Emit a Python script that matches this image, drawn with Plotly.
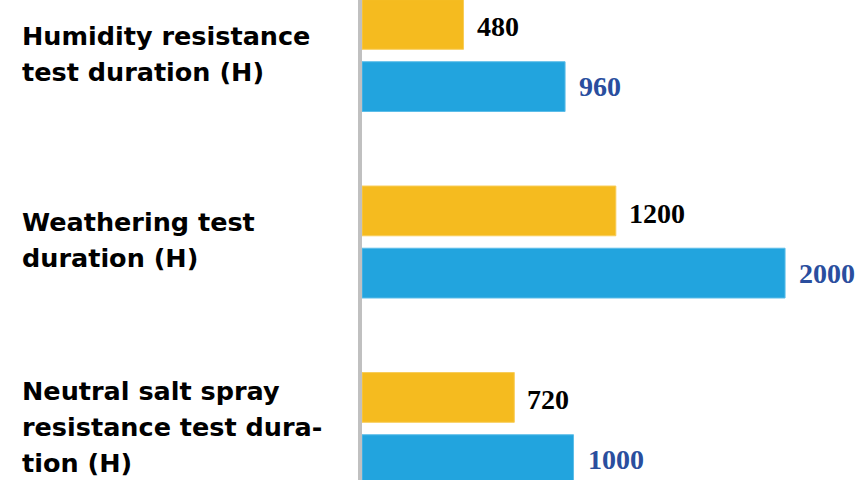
import plotly.graph_objects as go

category_lines = [
    ["Humidity resistance", "test duration (H)"],
    ["Weathering test", "duration (H)"],
    ["Neutral salt spray", "resistance test dura-", "tion (H)"],
]
categories = [" ".join(l) for l in category_lines]
series_a = [480, 1200, 720]    # yellow
series_b = [960, 2000, 1000]   # blue

YELLOW = "#F5BB1F"
BLUE = "#22A4DE"
LABEL_BLUE = "#2A4E9E"

fig = go.Figure()
fig.add_trace(go.Bar(y=categories, x=series_a, orientation="h",
                     marker=dict(color=YELLOW, line=dict(color="#F8CD5A", width=1)),
                     hoverinfo="x"))
fig.add_trace(go.Bar(y=categories, x=series_b, orientation="h",
                     marker=dict(color=BLUE, line=dict(color="#5CBDE9", width=1)),
                     hoverinfo="x"))

annotations = []
for cat, va, vb in zip(categories, series_a, series_b):
    annotations.append(dict(x=va, y=cat, xref="x", yref="y", text=str(va),
                            showarrow=False, xanchor="left", yanchor="middle",
                            xshift=11, yshift=29,
                            font=dict(family="Liberation Serif", size=28,
                                      color="black", weight="bold")))
    annotations.append(dict(x=vb, y=cat, xref="x", yref="y", text=str(vb),
                            showarrow=False, xanchor="left", yanchor="middle",
                            xshift=12, yshift=-31,
                            font=dict(family="Liberation Serif", size=28,
                                      color=LABEL_BLUE, weight="bold")))

line_pitch = 36
for cat, lines in zip(categories, category_lines):
    n = len(lines)
    for i, ln in enumerate(lines):
        annotations.append(dict(x=0, y=cat, xref="paper", yref="y", text=ln,
                                showarrow=False, xanchor="left", yanchor="middle",
                                xshift=-342, yshift=((n - 1) / 2 - i) * line_pitch + 2,
                                align="left",
                                font=dict(family="DejaVu Sans", size=25.5,
                                          color="black", weight="bold")))

fig.update_layout(
    width=861, height=480,
    margin=dict(l=362, r=0, t=0, b=0),
    paper_bgcolor="white", plot_bgcolor="white",
    barmode="group", bargap=0.333, bargroupgap=0.2,
    showlegend=False,
    annotations=annotations,
    xaxis=dict(range=[0, 2359], showgrid=False, zeroline=False,
               showticklabels=False, showline=False, fixedrange=True),
    yaxis=dict(type="category", range=[2.276, -0.2976], autorange=False,
               showgrid=False, zeroline=False, showticklabels=False, ticks="",
               showline=True, linecolor="#C0C0C0", linewidth=4, fixedrange=True),
)

fig.write_html("out.html", config={"displayModeBar": False},
               post_script="document.body.style.margin='0';document.body.style.overflow='hidden';")
